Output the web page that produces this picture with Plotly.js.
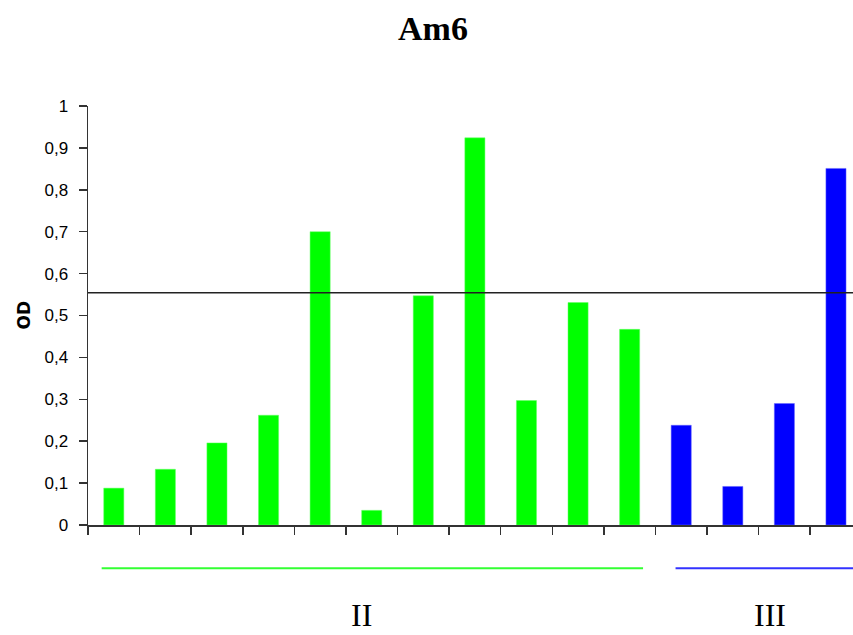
<!DOCTYPE html>
<html>
<head>
<meta charset="utf-8">
<script src="https://cdn.plot.ly/plotly-3.0.1.min.js"></script>
<style>html,body{margin:0;padding:0;background:#fff;}#chart{width:853px;height:635px;}</style>
</head>
<body>
<div id="chart"></div>
<script>
// Data
const categories = [0,1,2,3,4,5,6,7,8,9,10,11,12,13,14];
const groupIIValues = [0.088,0.133,0.196,0.262,0.700,0.035,0.547,0.924,0.297,0.531,0.467];
const groupIIIValues = [0.238,0.092,0.290,0.851];
const thresholdValue = 0.554;
const yTickValues = [0,0.1,0.2,0.3,0.4,0.5,0.6,0.7,0.8,0.9,1];
const yTickLabels = ["0","0,1","0,2","0,3","0,4","0,5","0,6","0,7","0,8","0,9","1"];
const groupLabels = ["II","III"];

const xII = categories.slice(0, groupIIValues.length);
const xIII = categories.slice(groupIIValues.length);
const boundaries = categories.map(c => c - 0.5);

const traces = [
  {type:'bar', x:xII, y:groupIIValues, width:0.39,
   marker:{color:'#00ff00', line:{color:'#66ff66', width:0.5}}, hoverinfo:'none'},
  {type:'bar', x:xIII, y:groupIIIValues, width:0.39,
   marker:{color:'#0000ff', line:{color:'#6666ff', width:0.5}}, hoverinfo:'none'}
];

const layout = {
  width:853, height:635,
  margin:{l:88, r:0, t:106, b:110, pad:0},
  paper_bgcolor:'#fff', plot_bgcolor:'#fff',
  showlegend:false,
  title:{text:'<b>Am6</b>', x:433/853, xref:'container', xanchor:'center', y:0.955, yref:'container', yanchor:'middle',
         font:{family:'Liberation Serif', size:34, color:'#000'}},
  xaxis:{range:[-0.5,14.33], showgrid:false, zeroline:false, showline:true, linecolor:'#333', linewidth:1.5,
         tickmode:'array', tickvals:boundaries, ticktext:boundaries.map(()=> ''), ticks:'outside', ticklen:8, tickwidth:1.5, tickcolor:'#333',
         fixedrange:true},
  yaxis:{range:[0,1], showgrid:false, zeroline:false, showline:true, linecolor:'#333', linewidth:1.5,
         tickmode:'array', tickvals:yTickValues, ticktext:yTickLabels, ticks:'outside', ticklen:8, tickwidth:1.5, tickcolor:'#333',
         ticklabelstandoff:7,
         tickfont:{family:'Liberation Sans', size:17, color:'#000'}, fixedrange:true},
  shapes:[
    {type:'line', xref:'paper', yref:'y', x0:0, x1:1, y0:thresholdValue, y1:thresholdValue, line:{color:'#222', width:1.5}},
    {type:'line', xref:'x', yref:'paper', x0:-0.235, x1:10.26, y0:-0.103, y1:-0.103, line:{color:'#33ff33', width:2}},
    {type:'line', xref:'x', yref:'paper', x0:10.89, x1:14.5, y0:-0.103, y1:-0.103, line:{color:'#3333ff', width:2}}
  ],
  annotations:[
    {text:'<b>OD</b>', xref:'paper', yref:'paper', x:-65/765, y:0.5, xanchor:'center', yanchor:'middle', textangle:-90,
     showarrow:false, font:{family:'DejaVu Sans', size:17, color:'#000'}},
    {text:groupLabels[0], xref:'x', yref:'paper', x:4.81, y:-0.215, xanchor:'center', yanchor:'middle', showarrow:false,
     font:{family:'Liberation Serif', size:32, color:'#000'}},
    {text:groupLabels[1], xref:'x', yref:'paper', x:12.72, y:-0.215, xanchor:'center', yanchor:'middle', showarrow:false,
     font:{family:'Liberation Serif', size:32, color:'#000'}}
  ]
};

Plotly.newPlot('chart', traces, layout, {displayModeBar:false, staticPlot:true});
</script>
</body>
</html>
